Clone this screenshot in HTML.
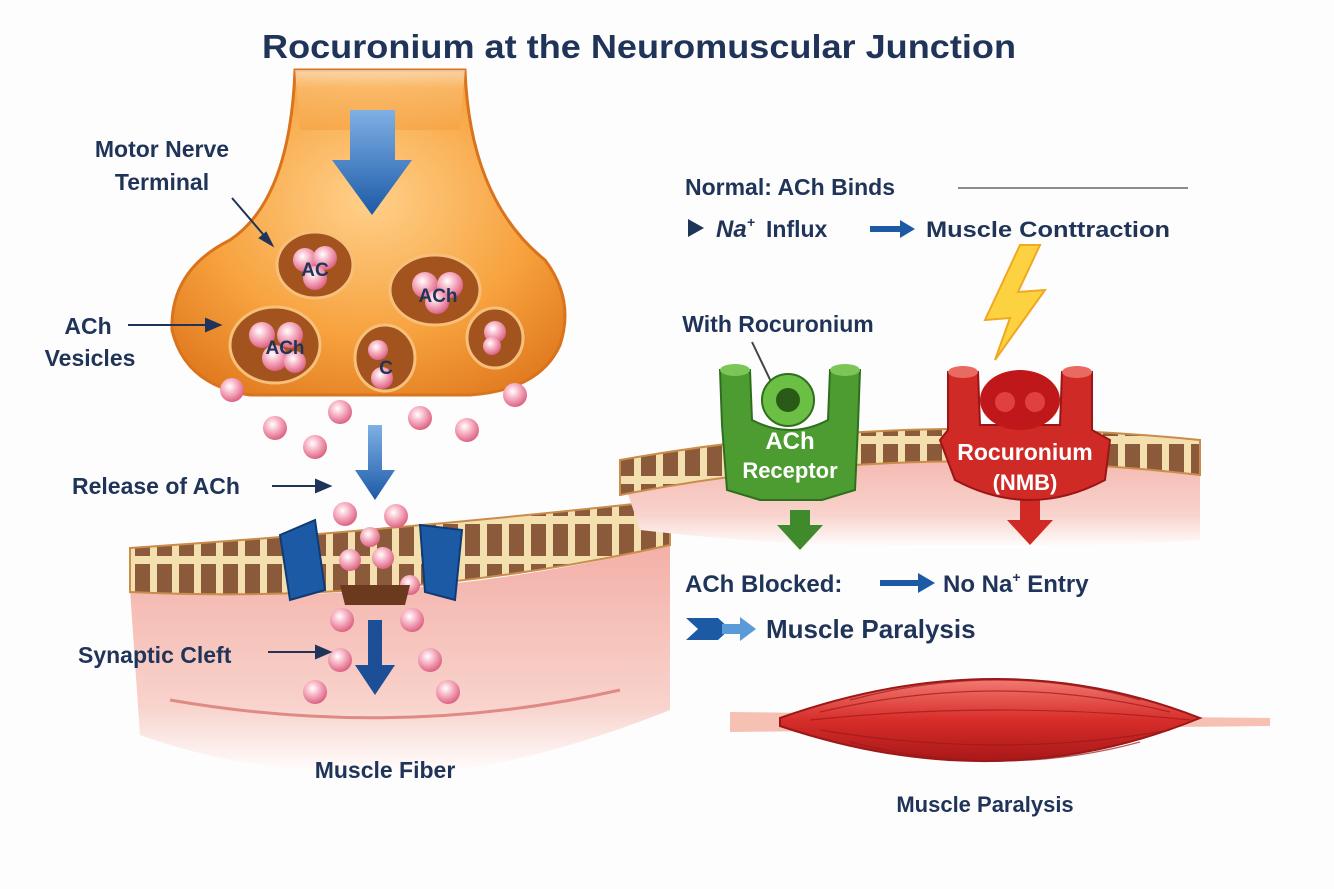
<!DOCTYPE html>
<html><head><meta charset="utf-8"><style>
html,body{margin:0;padding:0;background:#fff}
svg{display:block}
text{font-family:"Liberation Sans",sans-serif;font-weight:bold;fill:#1f3458}
</style></head><body>
<svg width="1334" height="889" viewBox="0 0 1334 889" xmlns="http://www.w3.org/2000/svg">
<defs>
<radialGradient id="org" cx="0.5" cy="0.4" r="0.7"><stop offset="0" stop-color="#ffd08a"/><stop offset="0.6" stop-color="#f7a23e"/><stop offset="1" stop-color="#e0791e"/></radialGradient>
<linearGradient id="orgtop" x1="0" y1="0" x2="0" y2="1"><stop offset="0" stop-color="#fff" stop-opacity="0.9"/><stop offset="0.3" stop-color="#fbc27a"/><stop offset="1" stop-color="#f5a040"/></linearGradient>
<linearGradient id="tis" x1="0" y1="0" x2="0" y2="1"><stop offset="0" stop-color="#f3b0a8"/><stop offset="0.7" stop-color="#f8d3cc"/><stop offset="1" stop-color="#fff"/></linearGradient>
<linearGradient id="blue" x1="0" y1="0" x2="0" y2="1"><stop offset="0" stop-color="#7fb0e6"/><stop offset="1" stop-color="#1c5aa6"/></linearGradient>
<radialGradient id="pk" cx="0.4" cy="0.35" r="0.7"><stop offset="0" stop-color="#fff"/><stop offset="0.4" stop-color="#f8b7c8"/><stop offset="1" stop-color="#d9587a"/></radialGradient>
<linearGradient id="mus" x1="0" y1="0" x2="0" y2="1"><stop offset="0" stop-color="#f27a72"/><stop offset="0.5" stop-color="#d72d2a"/><stop offset="1" stop-color="#a81818"/></linearGradient>
<pattern id="stripe" width="22" height="40" patternUnits="userSpaceOnUse"><rect width="22" height="40" fill="#f4dfae"/><rect x="3" y="4" width="15" height="32" fill="#8a5a3a"/></pattern>
</defs>
<rect width="1334" height="889" fill="#fdfdfd"/>
<text x="262" y="58" font-size="33" textLength="754" lengthAdjust="spacingAndGlyphs">Rocuronium at the Neuromuscular Junction</text>

<!-- left tissue -->
<path d="M130 590 Q400 610 670 545 L670 710 Q520 770 400 775 Q250 775 140 735 Z" fill="url(#tis)"/>
<path d="M130 548 Q400 530 670 500 L670 545 Q400 605 130 592 Z" fill="url(#stripe)" stroke="#c98c4a" stroke-width="2"/>
<path d="M170 700 Q400 740 620 690" stroke="#e08a84" stroke-width="3" fill="none"/>
<!-- right tissue -->
<path d="M620 470 Q900 420 1200 450 L1200 540 Q900 560 640 530 Z" fill="url(#tis)"/>
<path d="M620 460 Q900 410 1200 440 L1200 475 Q900 440 620 495 Z" fill="url(#stripe)" stroke="#c98c4a" stroke-width="2"/>

<!-- nerve terminal -->
<path d="M295 70 L465 70 Q470 200 545 260 Q575 300 560 345 Q540 390 470 395 L250 395 Q185 385 172 330 Q170 270 230 240 Q290 200 295 70 Z" fill="url(#org)" stroke="#d9731c" stroke-width="3"/>
<path d="M295 70 L465 70 L460 130 L300 130 Z" fill="url(#orgtop)" opacity="0.6"/>
<path d="M350 110 L395 110 L395 160 L412 160 L372 215 L332 160 L350 160 Z" fill="url(#blue)"/>
<g fill="#a3531e" stroke="#f7c07a" stroke-width="3">
<ellipse cx="315" cy="265" rx="38" ry="33"/><ellipse cx="435" cy="290" rx="45" ry="35"/>
<ellipse cx="275" cy="345" rx="45" ry="38"/><ellipse cx="385" cy="358" rx="30" ry="33"/><ellipse cx="495" cy="338" rx="28" ry="30"/></g>
<g fill="url(#pk)">
<circle cx="305" cy="260" r="12"/><circle cx="325" cy="258" r="12"/><circle cx="315" cy="278" r="12"/>
<circle cx="425" cy="285" r="13"/><circle cx="450" cy="285" r="13"/><circle cx="437" cy="302" r="12"/>
<circle cx="262" cy="335" r="13"/><circle cx="290" cy="335" r="13"/><circle cx="275" cy="358" r="13"/><circle cx="295" cy="362" r="11"/>
<circle cx="378" cy="350" r="10"/><circle cx="382" cy="378" r="11"/><circle cx="495" cy="332" r="11"/><circle cx="492" cy="346" r="9"/>
<circle cx="232" cy="390" r="12"/><circle cx="275" cy="428" r="12"/><circle cx="315" cy="447" r="12"/><circle cx="340" cy="412" r="12"/>
<circle cx="420" cy="418" r="12"/><circle cx="467" cy="430" r="12"/><circle cx="515" cy="395" r="12"/>
<circle cx="345" cy="514" r="12"/><circle cx="396" cy="516" r="12"/><circle cx="370" cy="537" r="10"/><circle cx="350" cy="560" r="11"/><circle cx="383" cy="558" r="11"/><circle cx="410" cy="585" r="10"/>
<circle cx="342" cy="620" r="12"/><circle cx="412" cy="620" r="12"/><circle cx="340" cy="660" r="12"/><circle cx="430" cy="660" r="12"/><circle cx="315" cy="692" r="12"/><circle cx="448" cy="692" r="12"/>
</g>
<g font-size="19"><text x="315" y="276" text-anchor="middle">AC</text><text x="438" y="302" text-anchor="middle">ACh</text><text x="285" y="354" text-anchor="middle">ACh</text><text x="386" y="374" text-anchor="middle">C</text></g>
<!-- blue arrows -->
<path d="M368 425 L382 425 L382 470 L395 470 L375 500 L355 470 L368 470 Z" fill="url(#blue)"/>
<path d="M368 620 L382 620 L382 665 L395 665 L375 695 L355 665 L368 665 Z" fill="#1c4f95"/>
<!-- channel -->
<path d="M280 535 L315 520 L325 590 L290 600 Z" fill="#1c5aa6" stroke="#0f3a75" stroke-width="2"/>
<path d="M420 525 L462 530 L455 600 L425 592 Z" fill="#1c5aa6" stroke="#0f3a75" stroke-width="2"/>
<path d="M340 585 L410 585 L405 605 L345 605 Z" fill="#6b3a1e"/>

<!-- labels left -->
<g font-size="23">
<text x="162" y="157" text-anchor="middle">Motor Nerve</text><text x="162" y="190" text-anchor="middle">Terminal</text>
<text x="88" y="334" text-anchor="middle">ACh</text><text x="90" y="366" text-anchor="middle">Vesicles</text>
<text x="72" y="494">Release of ACh</text>
<text x="78" y="663">Synaptic Cleft</text>
<text x="385" y="778" text-anchor="middle">Muscle Fiber</text>
</g>
<g stroke="#1f3458" stroke-width="2" fill="#1f3458">
<line x1="232" y1="198" x2="268" y2="240"/><path d="M272 245 L260 238 L266 233 Z"/>
<line x1="128" y1="325" x2="208" y2="325"/><path d="M220 325 L206 319 L206 331 Z"/>
<line x1="272" y1="486" x2="318" y2="486"/><path d="M330 486 L316 480 L316 492 Z"/>
<line x1="268" y1="652" x2="318" y2="652"/><path d="M330 652 L316 646 L316 658 Z"/>
</g>

<!-- right text -->
<text x="685" y="195" font-size="23">Normal: ACh Binds</text>
<line x1="958" y1="188" x2="1188" y2="188" stroke="#666" stroke-width="1.5"/>
<path d="M688 219 L704 228 L688 237 Z" fill="#1f3458"/>
<text x="716" y="237" font-size="24" font-style="italic">Na<tspan font-size="14" dy="-10">+</tspan></text>
<text x="766" y="237" font-size="23">Influx</text>
<path d="M870 226 L900 226 L900 220 L915 229 L900 238 L900 232 L870 232 Z" fill="#1c5aa6"/>
<text x="926" y="237" font-size="22" textLength="244" lengthAdjust="spacingAndGlyphs">Muscle Conttraction</text>
<path d="M1020 245 L985 320 L1010 318 L995 360 L1045 290 L1018 292 L1040 245 Z" fill="#fcd240" stroke="#f0a820" stroke-width="2"/>
<text x="778" y="332" font-size="23" text-anchor="middle">With Rocuronium</text>
<line x1="752" y1="342" x2="775" y2="390" stroke="#444" stroke-width="2"/>

<!-- green receptor -->
<path d="M790 510 L810 510 L810 525 L823 525 L800 550 L777 525 L790 525 Z" fill="#3f8a2a"/>
<path d="M720 370 L750 370 L752 420 Q790 440 828 420 L830 370 L860 370 L858 425 L855 490 L822 500 L760 500 L727 490 L722 425 Z" fill="#4d9c32" stroke="#2e6e1e" stroke-width="2"/>
<ellipse cx="735" cy="370" rx="15" ry="6" fill="#7cc557"/><ellipse cx="845" cy="370" rx="15" ry="6" fill="#7cc557"/>
<circle cx="788" cy="400" r="26" fill="#6cbf45" stroke="#2e6e1e" stroke-width="2"/><circle cx="788" cy="400" r="12" fill="#2a5a18"/>
<text x="790" y="449" font-size="24" text-anchor="middle" style="fill:#fff">ACh</text>
<text x="790" y="478" font-size="22" text-anchor="middle" style="fill:#fff">Receptor</text>
<!-- red receptor -->
<path d="M1020 500 L1040 500 L1040 520 L1053 520 L1030 545 L1007 520 L1020 520 Z" fill="#d12a24"/>
<path d="M948 372 L978 372 L980 425 L1060 425 L1062 372 L1092 372 L1092 430 L1110 440 L1105 480 Q1030 520 955 480 L940 440 L948 430 Z" fill="#cf2a26" stroke="#9a1515" stroke-width="2"/>
<ellipse cx="963" cy="372" rx="15" ry="6" fill="#e86a60"/><ellipse cx="1077" cy="372" rx="15" ry="6" fill="#e86a60"/>
<ellipse cx="1020" cy="400" rx="40" ry="30" fill="#c0181a"/><circle cx="1005" cy="402" r="10" fill="#e04040"/><circle cx="1035" cy="402" r="10" fill="#e04040"/>
<text x="1025" y="460" font-size="23" text-anchor="middle" style="fill:#fff">Rocuronium</text>
<text x="1025" y="490" font-size="22" text-anchor="middle" style="fill:#fff">(NMB)</text>

<text x="685" y="592" font-size="24">ACh Blocked:</text>
<path d="M880 580 L918 580 L918 573 L935 583 L918 593 L918 586 L880 586 Z" fill="#1c5aa6"/>
<text x="943" y="592" font-size="24">No Na<tspan font-size="14" dy="-10">+</tspan><tspan dy="10"> Entry</tspan></text>
<path d="M686 618 L718 618 L730 629 L718 640 L686 640 L698 629 Z" fill="#1c5aa6"/>
<path d="M722 624 L740 624 L740 617 L756 629 L740 641 L740 634 L722 634 Z" fill="#5a9ad8"/>
<text x="766" y="638" font-size="26">Muscle Paralysis</text>

<!-- muscle -->
<path d="M730 712 L1270 718 L1270 726 L730 732 Z" fill="#f6c0b2"/>
<path d="M780 718 Q1000 640 1200 718 Q1000 800 780 726 Z" fill="url(#mus)" stroke="#9c1818" stroke-width="2"/>
<g stroke="#9c1818" stroke-width="1.2" fill="none" opacity="0.7">
<path d="M820 712 Q1000 670 1170 712"/><path d="M810 720 Q1000 700 1190 720"/><path d="M820 730 Q1000 760 1170 730"/><path d="M850 700 Q1000 660 1140 700"/><path d="M850 742 Q1000 780 1140 742"/></g>
<text x="985" y="812" font-size="22" text-anchor="middle">Muscle Paralysis</text>
</svg>
</body></html>
